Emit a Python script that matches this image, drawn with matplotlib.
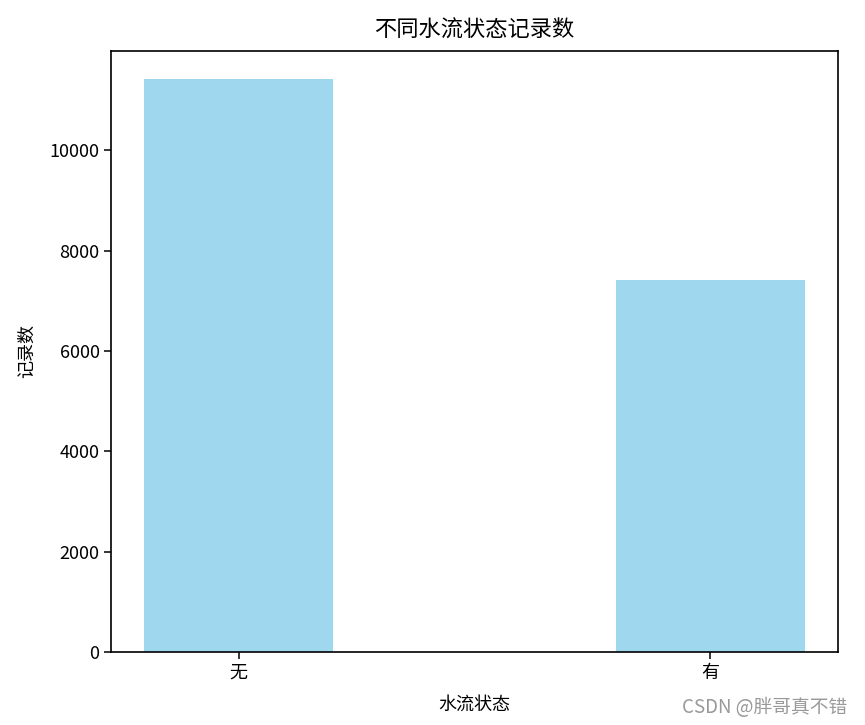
import matplotlib
matplotlib.use("Agg")
import matplotlib.pyplot as plt

plt.rcParams['font.family'] = ['Noto Sans CJK SC', 'DejaVu Sans']
plt.rcParams['axes.unicode_minus'] = False

# data
states = ["无", "有"]
counts = [11410, 7420]

fig = plt.figure(figsize=(8.65, 7.25), dpi=100)
ax = fig.add_axes([0.1287, 0.1007, 0.8397, 0.8293])

ax.bar(states, counts, width=0.4, color='skyblue', alpha=0.8)

ax.set_title("不同水流状态记录数", fontsize=16, pad=10)
ax.set_xlabel("水流状态", fontsize=13, labelpad=10)
ax.set_ylabel("记录数", fontsize=13, labelpad=10)
ax.tick_params(labelsize=13, width=1.1, length=5)
for s in ax.spines.values():
    s.set_linewidth(1.2)

# watermark
fig.text(0.98, 0.01, "CSDN @胖哥真不错", ha='right', va='bottom',
         fontsize=13.5, color='#999999')

fig.savefig("out.png", dpi=100)
